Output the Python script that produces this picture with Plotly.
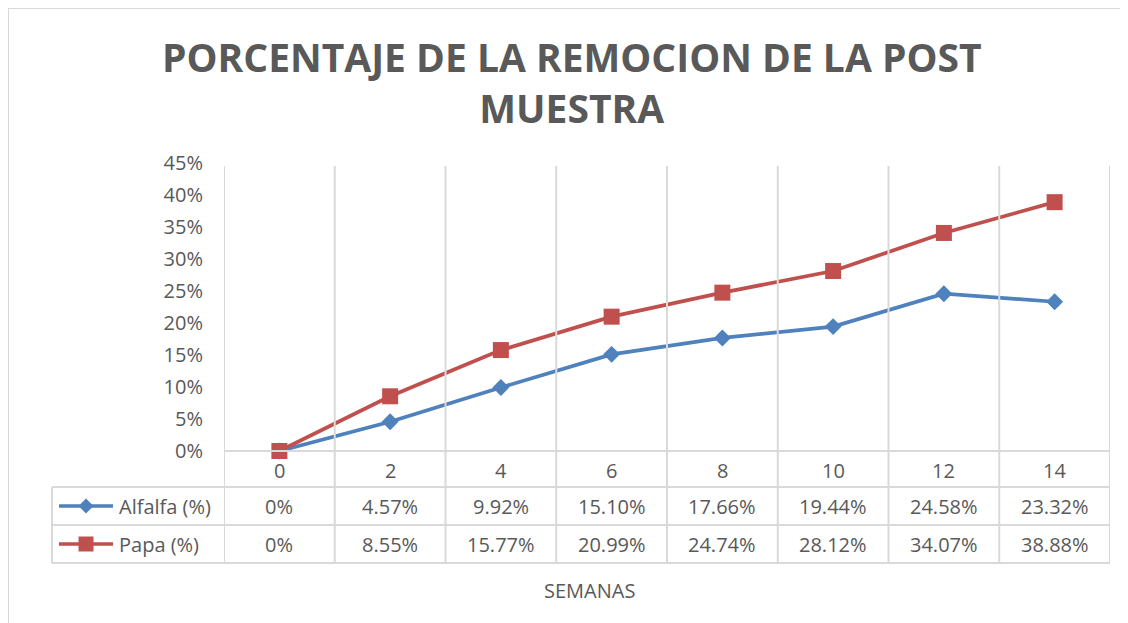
import plotly.graph_objects as go

# ---- data ----
semanas = [0, 2, 4, 6, 8, 10, 12, 14]
alfalfa = [0.0, 0.0457, 0.0992, 0.1510, 0.1766, 0.1944, 0.2458, 0.2332]
papa = [0.0, 0.0855, 0.1577, 0.2099, 0.2474, 0.2812, 0.3407, 0.3888]
series_names = ["Alfalfa (%)", "Papa (%)"]
title_text = "PORCENTAJE DE LA REMOCION DE LA POST<br>MUESTRA"
x_title = "SEMANAS"

BLUE = "#4F81BD"
RED = "#C0504D"
GRID = "#D9D9D9"
TXT = "#595959"
FONT = "Open Sans"

# page body has an 8px margin; work in page pixels and convert
OFF = 8
W, H = 1128 - OFF, 623 - OFF
def px(p):
    return (p - OFF) / W
def py(p):
    return 1 - (p - OFF) / H

plot_left, plot_right = 224, 1110
y0_px, y45_px = 451, 163
table_left = 52
row_lines = [451, 487, 525, 563]
grid_top = 166

fig = go.Figure()
fig.add_trace(go.Scatter(
    x=semanas, y=alfalfa, name=series_names[0], mode="lines+markers",
    line=dict(color=BLUE, width=3.75),
    marker=dict(symbol="diamond", size=13, color=BLUE),
    cliponaxis=False, showlegend=False))
fig.add_trace(go.Scatter(
    x=semanas, y=papa, name=series_names[1], mode="lines+markers",
    line=dict(color=RED, width=3.75),
    marker=dict(symbol="square", size=16, color=RED),
    cliponaxis=False, showlegend=False))

shapes = []
# outer chart border (left and top visible)
shapes.append(dict(type="line", xref="paper", yref="paper", x0=px(8), x1=px(8), y0=0, y1=py(8),
                   line=dict(color=GRID, width=2)))
shapes.append(dict(type="line", xref="paper", yref="paper", x0=px(8), x1=1, y0=py(8), y1=py(8),
                   line=dict(color=GRID, width=2)))
# vertical grid lines at category boundaries (plot + table)
bounds = [s - 1 for s in semanas] + [semanas[-1] + 1]
for b in bounds:
    shapes.append(dict(type="line", xref="x", yref="paper", x0=b, x1=b,
                       y0=py(row_lines[-1]), y1=py(grid_top), line=dict(color=GRID, width=2)))
# horizontal lines of the table
for k, r in enumerate(row_lines):
    xl = plot_left if k == 0 else table_left
    shapes.append(dict(type="line", xref="paper", yref="paper", x0=px(xl), x1=px(plot_right),
                       y0=py(r), y1=py(r), line=dict(color=GRID, width=2)))
shapes.append(dict(type="line", xref="paper", yref="paper", x0=px(table_left), x1=px(table_left),
                   y0=py(row_lines[1]), y1=py(row_lines[3]), line=dict(color=GRID, width=2)))

# legend keys inside the data table
row_centers = [(row_lines[1] + row_lines[2]) / 2, (row_lines[2] + row_lines[3]) / 2]
key_colors = [BLUE, RED]
kx0, kxm, kx1 = 59, 86, 113
for i in range(2):
    cy = row_centers[i]
    shapes.append(dict(type="line", xref="paper", yref="paper", x0=px(kx0), x1=px(kx1),
                       y0=py(cy), y1=py(cy), line=dict(color=key_colors[i], width=3.5)))
d = 7.5
shapes.append(dict(type="path", xref="paper", yref="paper",
                   path=f"M {px(kxm)},{py(row_centers[0]-d)} L {px(kxm+d)},{py(row_centers[0])} "
                        f"L {px(kxm)},{py(row_centers[0]+d)} L {px(kxm-d)},{py(row_centers[0])} Z",
                   fillcolor=BLUE, line=dict(width=0)))
s = 7.5
shapes.append(dict(type="rect", xref="paper", yref="paper",
                   x0=px(kxm - s), x1=px(kxm + s), y0=py(row_centers[1] + s), y1=py(row_centers[1] - s),
                   fillcolor=RED, line=dict(width=0)))

annotations = []
annotations.append(dict(text=title_text, xref="paper", yref="paper", x=px(572), y=py(82),
                        showarrow=False, font=dict(family=FONT, size=39, color=TXT, weight="bold"),
                        xanchor="center", yanchor="middle"))
annotations.append(dict(text=x_title, xref="paper", yref="paper", x=px(589), y=py(590),
                        showarrow=False, font=dict(family=FONT, size=20, color=TXT),
                        xanchor="center", yanchor="middle"))

def fmt(v):
    return "0%" if v == 0 else f"{v*100:.2f}%"

label_center = (row_lines[0] + row_lines[1]) / 2 + 1
for sx in semanas:
    annotations.append(dict(text=str(sx), xref="x", yref="paper", x=sx, y=py(label_center),
                            yanchor="middle", showarrow=False,
                            font=dict(family=FONT, size=20, color=TXT)))
for i, vals in enumerate([alfalfa, papa]):
    annotations.append(dict(text=series_names[i], xref="paper", yref="paper", x=px(117),
                            y=py(row_centers[i]), xanchor="left", yanchor="middle", showarrow=False,
                            font=dict(family=FONT, size=20, color=TXT)))
    for sx, v in zip(semanas, vals):
        annotations.append(dict(text=fmt(v), xref="x", yref="paper", x=sx, y=py(row_centers[i]),
                                yanchor="middle", showarrow=False,
                                font=dict(family=FONT, size=20, color=TXT)))

fig.update_layout(
    width=W, height=H, margin=dict(l=0, r=0, t=0, b=0, autoexpand=False),
    paper_bgcolor="white", plot_bgcolor="white",
    xaxis=dict(range=[-1, 15], domain=[px(plot_left), px(plot_right)], showgrid=False,
               zeroline=False, showticklabels=False, showline=False, automargin=False),
    yaxis=dict(range=[0, 0.45], domain=[py(y0_px), py(y45_px)], dtick=0.05, tick0=0,
               tickformat=".0%", showgrid=False, zeroline=False, showline=False,
               ticks="", ticklabelstandoff=20, automargin=False,
               tickfont=dict(family=FONT, size=20, color=TXT)),
    shapes=shapes, annotations=annotations, showlegend=False,
)

fig.write_html("out.html")
